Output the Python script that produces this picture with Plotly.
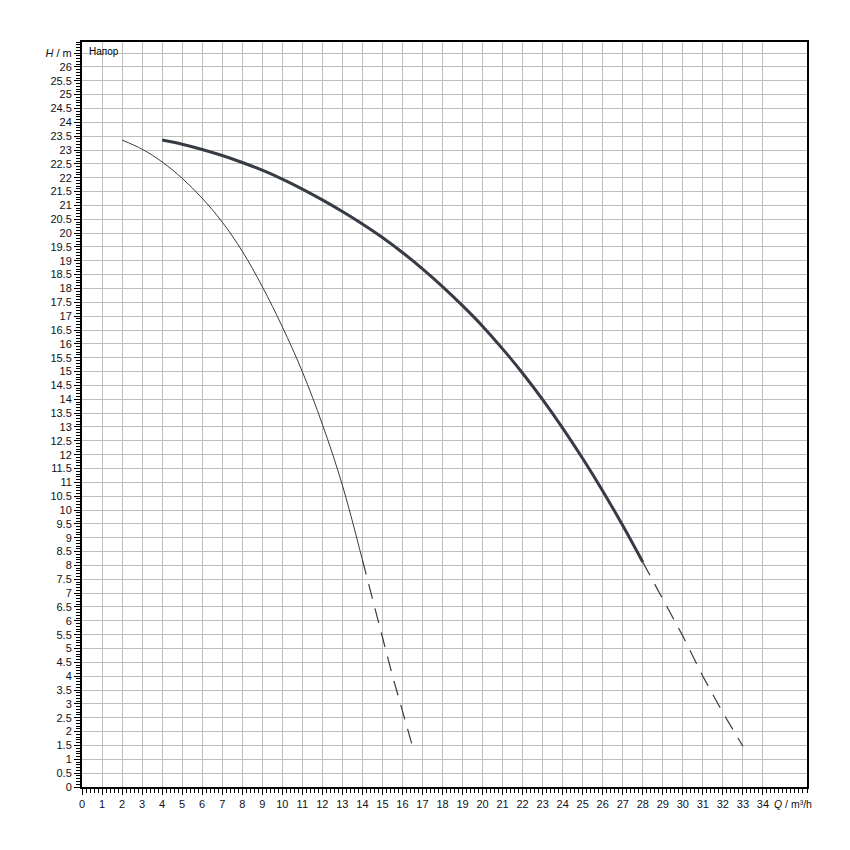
import plotly.graph_objects as go

# ---- data ----
q_small_solid = [2, 3, 4, 5, 6, 7, 8, 9, 10, 11, 12, 13, 14]
h_small_solid = [23.36, 23.03, 22.57, 21.98, 21.26, 20.40, 19.35, 18.07, 16.62, 15.0, 13.1, 10.9, 8.2]
q_small_dash = [14, 14.5, 15, 15.5, 16, 16.5]
h_small_dash = [8.2, 6.8, 5.43, 4.02, 2.75, 1.47]

q_big_solid = [4, 5, 6, 7, 8, 9, 10, 11, 12, 13, 14, 15, 16, 17, 18, 19, 20, 21, 22, 23, 24, 25, 26, 27, 28]
h_big_solid = [23.36, 23.21, 23.02, 22.80, 22.55, 22.27, 21.95, 21.59, 21.20, 20.78, 20.33, 19.84, 19.30,
               18.71, 18.07, 17.38, 16.64, 15.82, 14.94, 13.99, 12.96, 11.86, 10.69, 9.44, 8.12]
q_big_dash = [28, 29, 30, 31, 32, 33]
h_big_dash = [8.12, 6.8, 5.45, 4.0, 2.68, 1.47]

x_tick_vals = list(range(0, 35))
x_tick_text = [str(v) for v in x_tick_vals]
y_tick_vals = [i * 0.5 for i in range(0, 54)]
y_tick_text = [("%g" % v) for v in y_tick_vals[:-1]] + ["<i>H</i> / m"]

line_color = "#363b46"

fig = go.Figure()
fig.add_trace(go.Scatter(x=q_small_solid, y=h_small_solid, mode="lines",
                         line=dict(color=line_color, width=1), line_shape="spline", showlegend=False))
fig.add_trace(go.Scatter(x=q_small_dash, y=h_small_dash, mode="lines",
                         line=dict(color=line_color, width=1.2, dash="15px,10px"), showlegend=False))
fig.add_trace(go.Scatter(x=q_big_solid, y=h_big_solid, mode="lines",
                         line=dict(color=line_color, width=3), line_shape="spline", showlegend=False))
fig.add_trace(go.Scatter(x=q_big_dash, y=h_big_dash, mode="lines",
                         line=dict(color=line_color, width=1.2, dash="15px,10px"), showlegend=False))

grid = "#bebebe"
fig.update_xaxes(range=[0, 36.2], tickmode="array", tickvals=x_tick_vals, ticktext=x_tick_text,
                 showgrid=True, gridcolor=grid, gridwidth=1, zeroline=False,
                 showline=True, linecolor="black", linewidth=2, mirror=True,
                 ticks="outside", ticklen=6, tickcolor="black", tickwidth=1,
                 minor=dict(dtick=0.2, tick0=0, ticks="outside", ticklen=4, tickcolor="black", showgrid=False),
                 tickfont=dict(family="Arial", size=11, color="#101020"))
fig.update_yaxes(range=[0, 26.9], tickmode="array", tickvals=y_tick_vals, ticktext=y_tick_text,
                 showgrid=True, gridcolor=grid, gridwidth=1, zeroline=False,
                 showline=True, linecolor="black", linewidth=2, mirror=True,
                 ticks="outside", ticklen=6, tickcolor="black", tickwidth=1,
                 minor=dict(dtick=0.1, tick0=0, ticks="outside", ticklen=4, tickcolor="black", showgrid=False),
                 tickfont=dict(family="Arial", size=11, color="#101020"))

fig.add_annotation(x=34.45, y=0, xref="x", yref="paper", xanchor="left", yanchor="top", yshift=-9,
                   text="<i>Q</i> / m³/h", showarrow=False,
                   font=dict(family="Arial", size=10.5, color="#101020"))
fig.add_annotation(x=0.25, y=26.55, xref="x", yref="y", xanchor="left", yanchor="middle",
                   text="Напор", showarrow=False,
                   font=dict(family="Arial", size=10, color="black"))

fig.update_layout(width=834, height=834, margin=dict(l=74, r=35, t=34, b=55),
                  plot_bgcolor="white", paper_bgcolor="white")

fig.write_html("out.html")
